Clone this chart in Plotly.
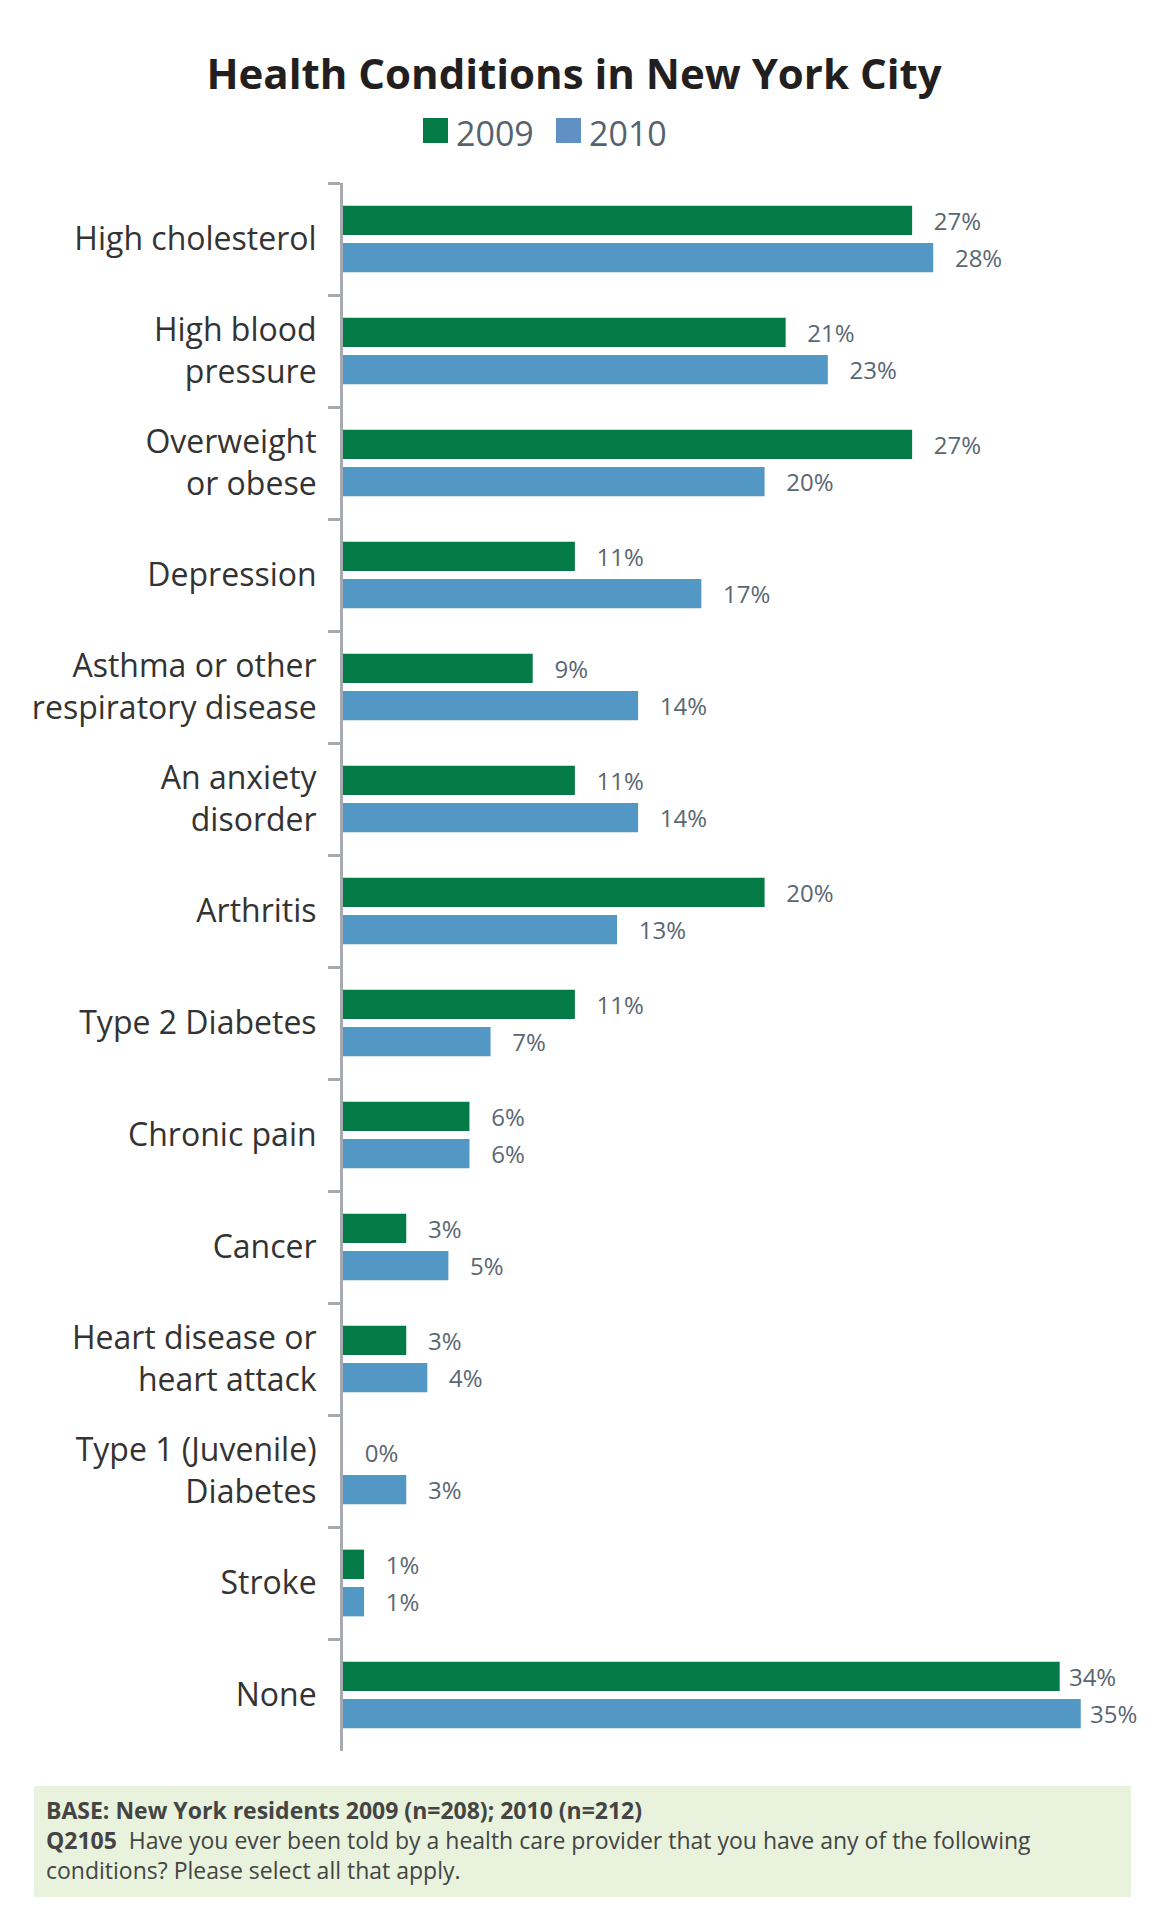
import plotly.graph_objects as go

# ---- data ----
categories = [
    "High cholesterol",
    "High blood<br>pressure",
    "Overweight<br>or obese",
    "Depression",
    "Asthma or other<br>respiratory disease",
    "An anxiety<br>disorder",
    "Arthritis",
    "Type 2 Diabetes",
    "Chronic pain",
    "Cancer",
    "Heart disease or<br>heart attack",
    "Type 1 (Juvenile)<br>Diabetes",
    "Stroke",
    "None",
]
series_names = ["2009", "2010"]
values_2009 = [27, 21, 27, 11, 9, 11, 20, 11, 6, 3, 3, 0, 1, 34]
values_2010 = [28, 23, 20, 17, 14, 14, 13, 7, 6, 5, 4, 3, 1, 35]

title_text = "Health Conditions in New York City"
note_text = ("<b>BASE: New York residents 2009 (n=208); 2010 (n=212)</b><br>"
             "<b>Q2105</b>\u00a0 Have you ever been told by a health care provider that you have any of the following<br>"
             "conditions? Please select all that apply.")

# ---- styles ----
OFF = 8  # page body margin
W, H = 1156 - 2 * OFF, 1916 - 2 * OFF
PLOT_L, PLOT_R, PLOT_T, PLOT_B = 343, 1144, 183, 1751  # page coords
ML = PLOT_L - OFF
MR = W - (PLOT_R - OFF)
MT = PLOT_T - OFF
MB = H - (PLOT_B - OFF)
XMAX = 38
GREEN = "#047a46"
BLUE = "#5397c4"
LEG_BLUE = "#6190c4"
LABEL_COLOR = "#5a6773"
AXIS_COLOR = "#a7abaf"
FONT = "Open Sans, Noto Sans, sans-serif"

plot_w = W - ML - MR
plot_h = H - MT - MB


def px_x(px):
    return (px - PLOT_L) / plot_w


def px_y(py):
    return (PLOT_B - py) / plot_h


def label_texts(vals):
    # long bars near the right edge get a tighter label gap (as in the original)
    out = []
    for v in vals:
        pad = "\u00a0" if v >= 30 else "\u00a0\u00a0\u00a0"
        out.append(f"{pad}{v}%")
    return out


fig = go.Figure()
for name, vals, col in [(series_names[0], values_2009, GREEN),
                        (series_names[1], values_2010, BLUE)]:
    fig.add_trace(go.Bar(
        name=name, x=vals, y=categories, orientation="h",
        marker=dict(color=col, line=dict(width=0)),
        text=label_texts(vals), texttemplate="%{text}",
        textposition="outside", cliponaxis=False, constraintext="none",
        outsidetextfont=dict(family=FONT, size=24, color=LABEL_COLOR),
        showlegend=False, hoverinfo="skip",
    ))

fig.update_layout(
    width=W, height=H,
    margin=dict(l=ML, r=MR, t=MT, b=MB, pad=0),
    paper_bgcolor="white", plot_bgcolor="white",
    barmode="group", bargap=0.333, bargroupgap=0.214,
    font=dict(family=FONT, color="#333333"),
    xaxis=dict(range=[0, XMAX], visible=False, showgrid=False, zeroline=False, fixedrange=True),
    yaxis=dict(
        categoryorder="array", categoryarray=categories,
        autorange="reversed",
        showline=True, linewidth=3, linecolor=AXIS_COLOR,
        ticks="outside", tickson="boundaries", ticklen=12, tickwidth=3, tickcolor=AXIS_COLOR,
        ticklabelstandoff=17,
        tickfont=dict(family=FONT, size=32, color="#333333"),
        showgrid=False, zeroline=False,
    ),
    title=dict(text="<b>" + title_text + "</b>", x=(574 - OFF) / W, xanchor="center",
               xref="container",
               y=1 - (74 - OFF) / H, yanchor="middle", yref="container",
               font=dict(family=FONT, size=42, color="#231f20")),
)

# custom legend
shapes = []
annotations = []
leg_items = [(series_names[0], GREEN, 423, 457), (series_names[1], LEG_BLUE, 556, 590)]
for name, col, sx, tx in leg_items:
    shapes.append(dict(type="rect", xref="paper", yref="paper",
                       x0=px_x(sx), x1=px_x(sx + 25), y0=px_y(143), y1=px_y(118),
                       fillcolor=col, line=dict(width=0)))
    annotations.append(dict(text=name, xref="paper", yref="paper",
                            x=px_x(tx - 3), y=px_y(133), xanchor="left", yanchor="middle",
                            showarrow=False,
                            font=dict(family=FONT, size=34, color="#56636f")))

# note box
shapes.append(dict(type="rect", xref="paper", yref="paper",
                   x0=px_x(34), x1=px_x(1131), y0=px_y(1897), y1=px_y(1786),
                   fillcolor="#e8f2dc", line=dict(width=0), layer="below"))
annotations.append(dict(text=note_text, xref="paper", yref="paper",
                        x=px_x(44), y=px_y(1840), xanchor="left", yanchor="middle",
                        align="left", showarrow=False,
                        font=dict(family=FONT, size=23, color="#444444")))

fig.update_layout(shapes=shapes, annotations=annotations)
fig.write_html("out.html")
